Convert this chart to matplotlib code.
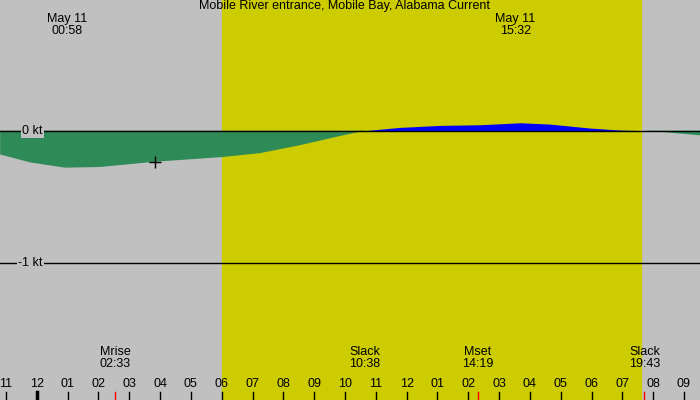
import matplotlib
matplotlib.use("Agg")
import matplotlib.pyplot as plt
import numpy as np

hours = [-1.19, -0.22, 0.91, 2.05, 3.83, 6.0, 7.24, 8.54, 9.84, 10.63, 11.78, 13.08, 14.38, 15.68, 16.65, 17.95, 18.92, 19.73, 20.54, 21.52]
speed = [-0.18, -0.24, -0.28, -0.275, -0.235, -0.2, -0.17, -0.11, -0.04, 0.0, 0.025, 0.04, 0.045, 0.06, 0.05, 0.02, 0.005, 0.0, -0.015, -0.035]
tick_hours = list(range(-1, 22))
tick_labels = ["11","12","01","02","03","04","05","06","07","08","09","10","11","12","01","02","03","04","05","06","07","08","09"]
events = [("Mrise", "02:33", 2.55), ("Slack", "10:38", 10.633), ("Mset", "14:19", 14.317), ("Slack", "19:43", 19.717)]
sunrise, sunset = 6.0, 19.6
moon = [("May 11", "00:58", 0.97), ("May 11", "15:32", 15.53)]

plt.rcParams['font.family'] = ['Liberation Sans', 'DejaVu Sans']
fig = plt.figure(figsize=(7, 4), dpi=100)
ax = fig.add_axes([0, 0, 1, 1])
ax.set_xlim(-1.195, 21.52)
ax.set_ylim(-2.04, 0.99)
ax.axis('off')
ax.add_patch(plt.Rectangle((-2, -3), 30, 5, color='#c0c0c0', zorder=0))
ax.axvspan(sunrise, sunset, color='#cccc00', zorder=1)

h = np.linspace(hours[0], hours[-1], 800)
v = np.interp(h, hours, speed)
ax.fill_between(h, 0, v, where=v <= 0, color='#2e8b57', interpolate=True, zorder=2, lw=0)
ax.fill_between(h, 0, v, where=v >= 0, color='#0000ff', interpolate=True, zorder=2, lw=0)
ax.axhline(0, color='black', lw=1, zorder=3)
ax.axhline(-1, color='black', lw=1, zorder=3)
ax.text(0.2, 0.0, "0 kt", ha='right', va='center', fontsize=9, zorder=4,
        bbox=dict(fc='#c0c0c0', ec='none', pad=1))
ax.text(0.2, -1.0, "-1 kt", ha='right', va='center', fontsize=9, zorder=4,
        bbox=dict(fc='#c0c0c0', ec='none', pad=1))
ax.plot([3.83], [-0.235], marker='+', color='black', ms=8, zorder=4)

ax.text(10.0, 0.99, "Mobile River entrance, Mobile Bay, Alabama Current", ha='center', va='top', fontsize=9)
for d, t, x in moon:
    ax.text(x, 0.89, d + "\n" + t, ha='center', va='top', fontsize=9, linespacing=0.95)
for name, t, x in events:
    ax.text(x, -1.68, name, ha='center', va='center', fontsize=9)
    ax.text(x, -1.77, t, ha='center', va='center', fontsize=9)
    if name != "Slack":
        ax.plot([x, x], [-2.04, -1.98], color='red', lw=1, zorder=4)
ax.plot([19.717, 19.717], [-2.04, -1.98], color='red', lw=1, zorder=4)
for th, lab in zip(tick_hours, tick_labels):
    ax.text(th, -1.92, lab, ha='center', va='center', fontsize=9)
    lw = 2.5 if th == 0 else 1
    ax.plot([th, th], [-2.04, -1.98], color='black', lw=lw, zorder=3)
fig.savefig("out.png", dpi=100)
